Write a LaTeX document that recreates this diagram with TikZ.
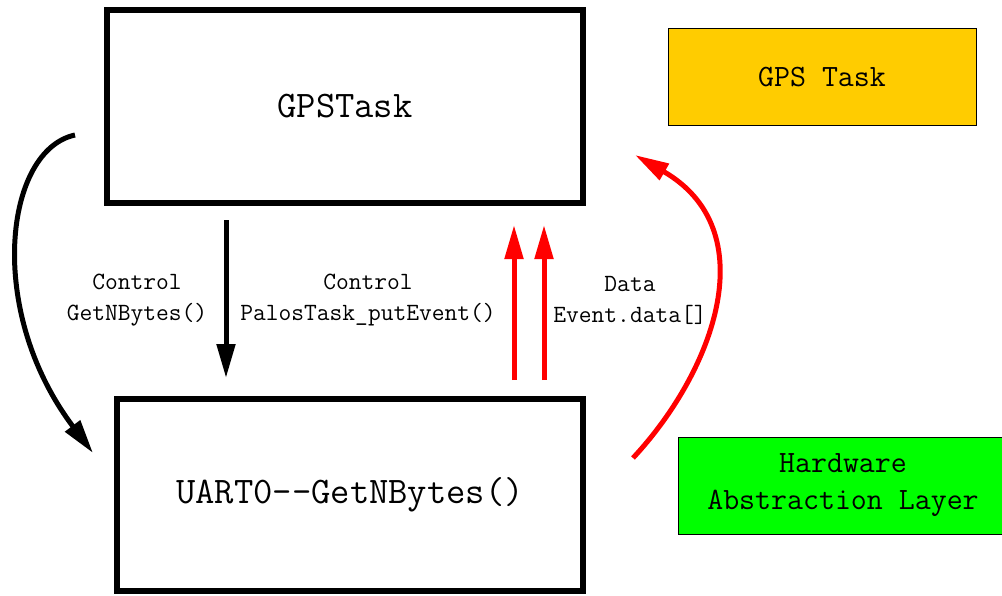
\documentclass[tikz,border=0pt]{standalone}
\usetikzlibrary{arrows.meta}
\definecolor{taskyellow}{HTML}{FFCC00}
\definecolor{halgreen}{HTML}{00FF00}
\tikzset{
  bigbox/.style={draw=black, line width=6pt, minimum width=#1, inner sep=0pt,
    font=\ttfamily\fontsize{37.5}{44}\selectfont},
  legendbox/.style={draw=black, line width=0.8pt, minimum height=97pt, inner sep=0pt, align=center,
    font=\ttfamily\fontsize{31}{37}\selectfont},
  flowlabel/.style={align=center, font=\ttfamily\fontsize{24.8}{31}\selectfont},
  ctrl/.style={draw=black, line width=5pt, -{Triangle[length=34pt,width=18pt]}},
  datafl/.style={draw=red, line width=5pt, -{Triangle[length=34pt,width=18pt]}},
}
\begin{document}
\begin{tikzpicture}[x=1pt,y=-1pt]
\useasboundingbox (0,0) rectangle (1002,595);
% main blocks
\node[bigbox=476pt, minimum height=193pt] (gps) at (345,106.5) {GPSTask};
\node[bigbox=466pt, minimum height=192pt] (uart) at (350,495) {UART0--GetNBytes()};
% legend
\node[legendbox, fill=taskyellow, minimum width=308pt] (leg1) at (822,77) {GPS Task};
\node[legendbox, fill=halgreen, minimum width=330pt] (leg2) at (843,485.5) {Hardware\\Abstraction Layer};
% connector end points
\coordinate (cs) at (75,135);
\coordinate (ce) at (93,453);
\coordinate (ds) at (226,220);
\coordinate (de) at (226,378);
\coordinate (r1s) at (514,380);
\coordinate (r1e) at (514,225);
\coordinate (r2s) at (544,380);
\coordinate (r2e) at (544,225);
\coordinate (rs) at (633,458);
\coordinate (re) at (635,155);
% control flow
\draw[ctrl] (cs) .. controls (5,150) and (-15,310) .. (ce);
\draw[ctrl] (ds) -- (de);
% data flow
\draw[datafl] (r1s) -- (r1e);
\draw[datafl] (r2s) -- (r2e);
\draw[datafl] (rs) .. controls (715,370) and (765,230) .. (re);
% labels
\node[flowlabel] (l1) at (137,300) {Control\\GetNBytes()};
\node[flowlabel] (l2) at (368,300) {Control\\PalosTask\_putEvent()};
\node[flowlabel] (l3) at (630,300) {Data\\Event.data[]};
\end{tikzpicture}
\end{document}
